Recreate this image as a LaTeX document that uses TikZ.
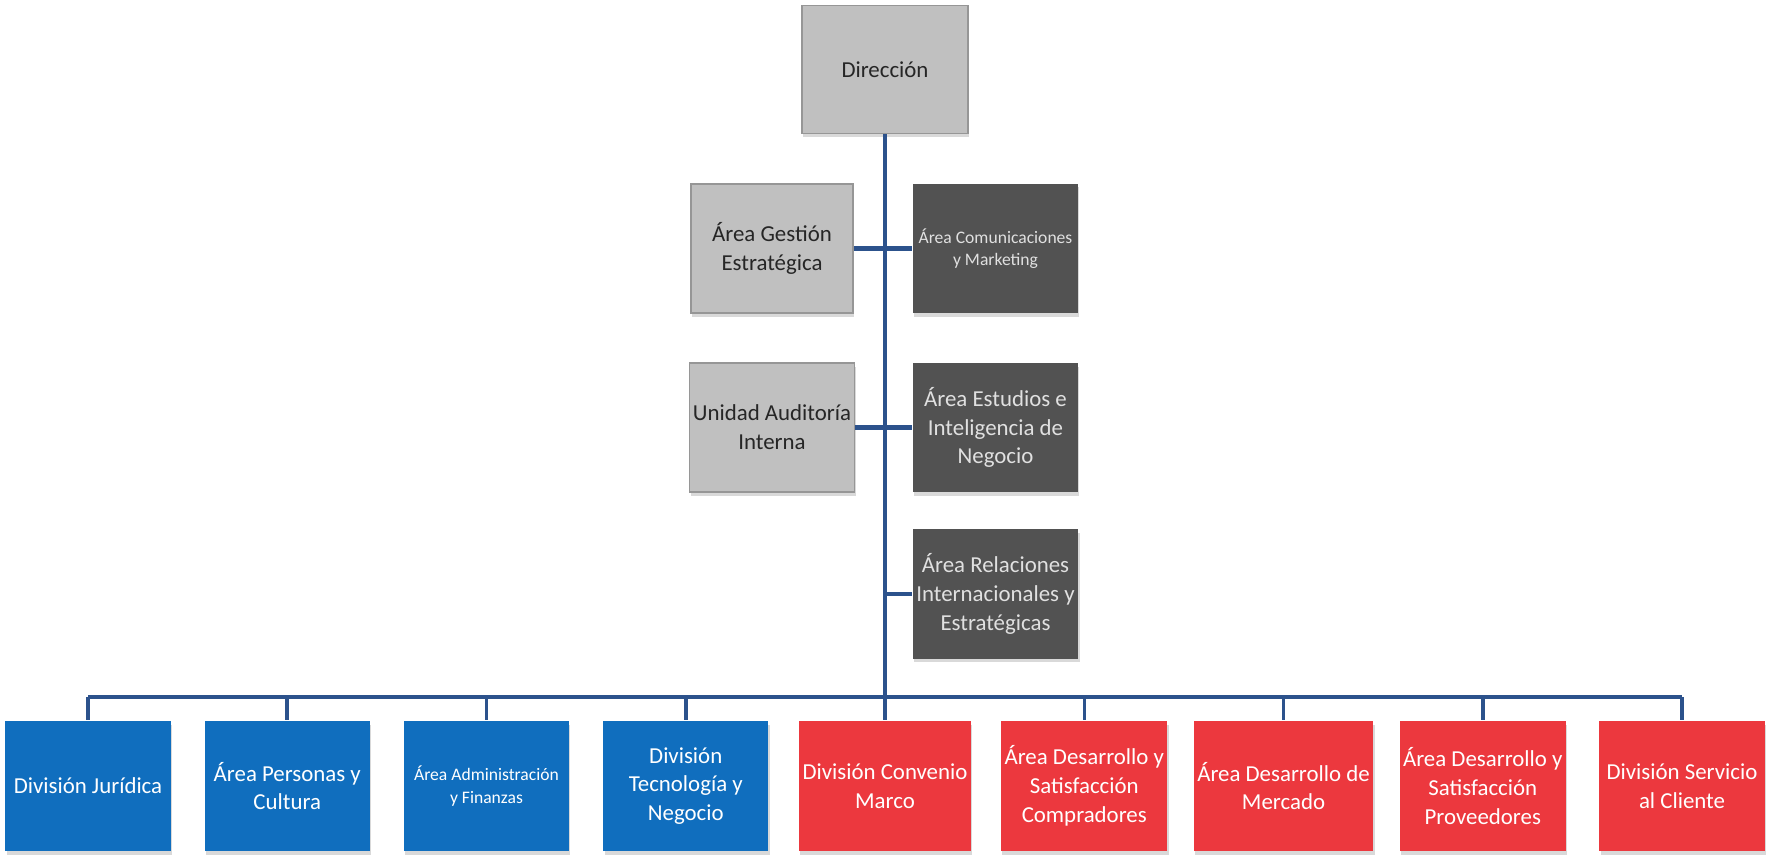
\documentclass[tikz,border=0pt]{standalone}
\usepackage{fontspec}
\setmainfont{Carlito}
\usetikzlibrary{positioning,shadows}
\definecolor{cajagris}{RGB}{192,192,192}
\definecolor{bordegris}{RGB}{150,150,150}
\definecolor{cajaoscura}{RGB}{82,82,82}
\definecolor{cajaazul}{RGB}{16,110,190}
\definecolor{cajaroja}{RGB}{236,56,62}
\definecolor{lineaazul}{RGB}{44,82,140}
\begin{document}
\begin{tikzpicture}[x=0.01cm,y=-0.01cm,
  caja/.style={rectangle,minimum width=1.65cm,minimum height=1.29cm,align=center,inner sep=1pt,
    font=\fontsize{6.5}{8.2}\selectfont,drop shadow={shadow xshift=0.4pt,shadow yshift=-1pt,opacity=0.3}},
  gris/.style={caja,fill=cajagris,draw=bordegris,line width=0.4pt,text=black!85},
  oscuro/.style={caja,fill=cajaoscura,text=white!88!black},
  azul/.style={caja,fill=cajaazul,text=white},
  rojo/.style={caja,fill=cajaroja,text=white},
  chica/.style={font=\fontsize{5}{6.4}\selectfont},
  azulchica/.style={azul,chica},
  linea/.style={draw=lineaazul,line width=1.2pt}]
\useasboundingbox (0,0) rectangle (1766,856);
%\draw[help lines,step=100] (0,0) grid (1766,856);
\node[gris,minimum width=1.66cm,minimum height=1.28cm] (dir) at (885,69.5) {Dirección};
\node[gris,minimum width=1.62cm] (gest) at (772,248.5) {Área Gestión\\Estratégica};
\node[oscuro,chica] (comu) at (995.5,248.5) {Área Comunicaciones\\y Marketing};
\node[gris,minimum width=1.62cm] (audi) at (772,427.5) {Unidad Auditoría\\Interna};
\node[oscuro] (estu) at (995.5,427.5) {Área Estudios e\\Inteligencia de\\Negocio};
\node[oscuro] (rela) at (995.5,594) {Área Relaciones\\Internacionales y\\Estratégicas};
% divisiones y areas de abajo
\foreach \i/\estilo/\texto in {1/azul/División Jurídica,2/azul/{Área Personas y\\Cultura},
  3/azulchica/{Área Administración\\y Finanzas},4/azul/{División\\Tecnología y\\Negocio},
  5/rojo/{División Convenio\\Marco},6/rojo/{Área Desarrollo y\\Satisfacción\\Compradores},
  7/rojo/{Área Desarrollo de\\Mercado},8/rojo/{Área Desarrollo y\\Satisfacción\\Proveedores},
  9/rojo/{División Servicio\\al Cliente}}
\node[\estilo,minimum height=1.3cm] (b\i) at ({88+199.25*(\i-1)},786) {\texto};
\draw[linea] (dir.south)--(b5.north);
\draw[linea] (gest.east)--(comu.west);
\draw[linea] (audi.east)--(estu.west);
\draw[linea] (dir.south |- rela.west)--(rela.west);
\coordinate (bus) at (0,697);
\draw[linea] (b1.north |- bus)--(b9.north |- bus);
\foreach \i in {1,...,9}
\draw[linea,line width=1pt] (b\i.north |- bus)--(b\i.north);
\end{tikzpicture}
\end{document}
